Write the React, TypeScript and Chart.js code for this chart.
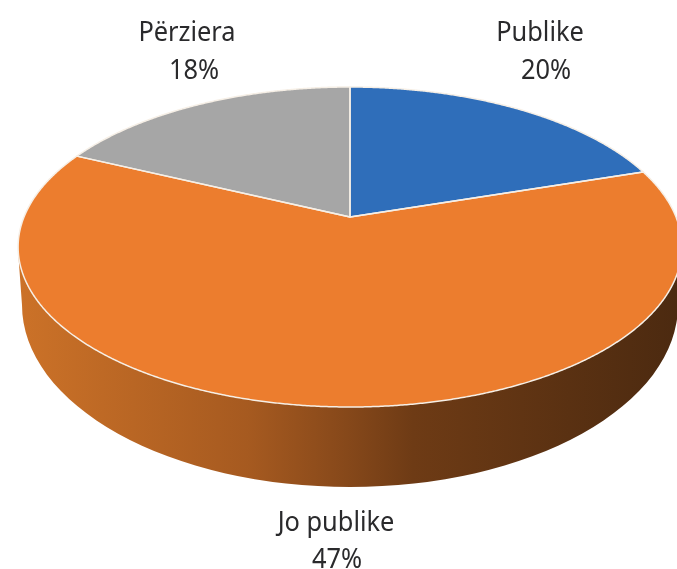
import React, { useEffect, useRef } from "react";
import { Chart, registerables } from "chart.js";

Chart.register(...registerables);

// Slice order is clockwise from twelve o'clock, as in the picture.
const categories = ["Publike", "Jo publike", "Përziera"];
const sliceShares = [20, 62, 18]; // shares
const printedShares = ["20%", "47%", "18%"]; // percentages as printed on the picture
const sliceColors = ["#2F6EBA", "#EC7D2E", "#A6A6A6"];

const labelPlacement = [
  { x: 540, y: 33, px: 546, py: 71 },
  { x: 336, y: 523, px: 337, py: 560 },
  { x: 187, y: 33, px: 194, py: 71 },
];

// Perspective of the tilted disc
const CX = 350, CY = 247, A = 326, B = 160, C = 30, K = 0.1875;
const project = (ang: number) => {
  const u = Math.cos(ang), v = -Math.sin(ang);
  const d = 1 + K * v;
  return { x: CX + (A * u) / d, y: CY - (B * v + C) / d };
};
const apex = () => ({ x: CX, y: CY - C });

const tracePath = (ctx: CanvasRenderingContext2D, arc: any) => {
  const p = arc.getProps(["startAngle", "endAngle"], true);
  const o = apex();
  ctx.beginPath();
  ctx.moveTo(o.x, o.y);
  const steps = Math.ceil((p.endAngle - p.startAngle) / 0.005);
  for (let i = 0; i <= steps; i++) {
    const q = project(p.startAngle + ((p.endAngle - p.startAngle) * i) / steps);
    ctx.lineTo(q.x, q.y);
  }
  ctx.closePath();
};

const discPlugin = {
  id: "disc",
  beforeDatasetDraw(chart: any) {
    const ctx = chart.ctx as CanvasRenderingContext2D;
    const arcs = chart.getDatasetMeta(0).data;
    // side wall
    ctx.save();
    const g = ctx.createLinearGradient(17, 0, 677, 0);
    g.addColorStop(0, "#CC7228");
    g.addColorStop(0.35, "#A65A20");
    g.addColorStop(0.5, "#86481A");
    g.addColorStop(0.6, "#6E3B15");
    g.addColorStop(1, "#4C2A10");
    ctx.fillStyle = g;
    ctx.beginPath();
    ctx.moveTo(682, 250);
    ctx.lineTo(678, 305);
    ctx.ellipse(350, 305, 328, 182, 0, 0, Math.PI);
    ctx.lineTo(18, 250);
    ctx.closePath();
    ctx.fill();
    // top face, from the angles the pie controller computed
    arcs.forEach((arc: any) => {
      tracePath(ctx, arc);
      ctx.fillStyle = arc.options.backgroundColor;
      ctx.fill();
    });
    arcs.forEach((arc: any) => {
      tracePath(ctx, arc);
      ctx.strokeStyle = arc.options.borderColor;
      ctx.lineWidth = arc.options.borderWidth;
      ctx.lineJoin = "round";
      ctx.stroke();
    });
    ctx.restore();
    return false;
  },
  afterDraw(chart: any) {
    const ctx = chart.ctx as CanvasRenderingContext2D;
    ctx.save();
    ctx.fillStyle = "#2A2A2C";
    ctx.textAlign = "center";
    ctx.textBaseline = "middle";
    ctx.font = '27px "Noto Sans"';
    const put = (t: string, x: number, y: number) => {
      ctx.save();
      ctx.translate(x, y);
      ctx.scale(0.94, 1);
      ctx.fillText(t, 0, 0);
      ctx.restore();
    };
    categories.forEach((name, i) => {
      const l = labelPlacement[i];
      put(name, l.x, l.y);
      put(printedShares[i], l.px, l.py);
    });
    ctx.restore();
  },
};

export default function App() {
  const ref = useRef<HTMLCanvasElement>(null);
  useEffect(() => {
    const chart = new Chart(ref.current!, {
      type: "pie",
      data: {
        labels: categories,
        datasets: [
          {
            data: sliceShares,
            backgroundColor: sliceColors,
            borderColor: "#F6EFE6",
            borderWidth: 1.5,
          },
        ],
      },
      options: {
        animation: false,
        responsive: false,
        plugins: { legend: { display: false }, tooltip: { enabled: false } },
      },
      plugins: [discPlugin],
    });
    return () => chart.destroy();
  }, []);
  return (
    <div style={{ position: "fixed", left: 0, top: 0, width: 677, height: 569, background: "#fff" }}>
      <canvas ref={ref} width={677} height={569} style={{ display: "block" }} />
    </div>
  );
}
